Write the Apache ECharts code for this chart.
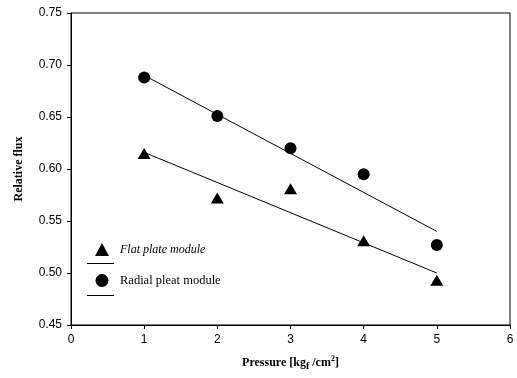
<!DOCTYPE html>
<html>
<head>
<meta charset="utf-8">
<script src="https://cdn.jsdelivr.net/npm/echarts@6/dist/echarts.min.js"></script>
<style>
  html, body { margin: 0; padding: 0; background: #fff; }
  #chart { width: 517px; height: 378px; }
</style>
</head>
<body>
<div id="chart"></div>
<script>
// values
var pressure = [1, 2, 3, 4, 5];
var flatPlate = [0.615, 0.572, 0.581, 0.531, 0.493];
var radialPleat = [0.688, 0.651, 0.620, 0.595, 0.527];

// fitted lines, end points as drawn
var fitX = [1, 5];
var flatFit = [0.616, 0.500];
var radialFit = [0.690, 0.540];

function pairs(xs, ys) {
  return xs.map(function (x, i) { return [x, ys[i]]; });
}

var chart = echarts.init(document.getElementById("chart"));

var serif = "Liberation Serif";
var sans = "Liberation Sans";

var option = {
  animation: false,
  grid: {
    left: 71,
    right: 7,
    top: 13,
    bottom: 53,
    show: true,
    borderColor: "#000",
    borderWidth: 1,
  },
  legend: [
    {
      orient: "vertical",
      left: 90,
      top: 238,
      itemGap: 18,
      itemWidth: 14,
      itemHeight: 13,
      data: ["Flat plate module", "Radial pleat module"],
      textStyle: { fontFamily: serif, fontSize: 12.5, color: "#000", padding: [0, 0, 0, 6] },
      formatter: function (name) {
        return name === "Flat plate module" ? "{i|" + name + "}" : name;
      },
      selectedMode: false,
    },
    {
      orient: "vertical",
      left: 82,
      top: 254,
      itemGap: 27,
      itemWidth: 27,
      itemHeight: 9,
      icon: "path://M0,4.5L27,4.5L27,5.5L0,5.5Z",
      data: ["flat fit", "radial fit"],
      formatter: function () { return ""; },
      selectedMode: false,
    },
  ],
  xAxis: {
    type: "value",
    min: 0,
    max: 6,
    interval: 1,
    name: "Pressure [kg{sub|f} /cm{sup|2}]",
    nameLocation: "middle",
    nameGap: 30,
    nameTextStyle: {
      fontFamily: serif,
      fontWeight: "bold",
      fontSize: 12,
      color: "#000",
      rich: {
        sub: { fontFamily: serif, fontWeight: "bold", fontSize: 10, verticalAlign: "bottom", padding: [6, 0, 0, 0] },
        sup: { fontFamily: serif, fontWeight: "bold", fontSize: 8, verticalAlign: "top", padding: [0, 0, 6, 0] },
      },
    },
    axisLine: { lineStyle: { color: "#000", width: 1 } },
    axisTick: { inside: false, length: 4, lineStyle: { color: "#000" } },
    axisLabel: { fontFamily: sans, fontSize: 12, color: "#000", margin: 9 },
    splitLine: { show: false },
  },
  yAxis: {
    type: "value",
    min: 0.45,
    max: 0.75,
    interval: 0.05,
    name: "Relative flux",
    nameLocation: "middle",
    nameGap: 46,
    nameTextStyle: { fontFamily: serif, fontWeight: "bold", fontSize: 12, color: "#000" },
    axisLine: { show: true, lineStyle: { color: "#000", width: 1 } },
    axisTick: { show: true, inside: false, length: 4, lineStyle: { color: "#000" } },
    axisLabel: {
      fontFamily: sans,
      fontSize: 12,
      color: "#000",
      margin: 9,
      formatter: function (v) { return v.toFixed(2); },
    },
    splitLine: { show: false },
  },
  series: [
    {
      name: "Flat plate module",
      type: "scatter",
      symbol: "triangle",
      symbolSize: [13, 11],
      itemStyle: { color: "#000", opacity: 1 },
      data: pairs(pressure, flatPlate),
    },
    {
      name: "Radial pleat module",
      type: "scatter",
      symbol: "circle",
      symbolSize: 12,
      itemStyle: { color: "#000", opacity: 1 },
      data: pairs(pressure, radialPleat),
    },
    {
      name: "flat fit",
      type: "line",
      showSymbol: false,
      lineStyle: { color: "#000", width: 1 },
      itemStyle: { color: "#000" },
      data: pairs(fitX, flatFit),
    },
    {
      name: "radial fit",
      type: "line",
      showSymbol: false,
      lineStyle: { color: "#000", width: 1 },
      itemStyle: { color: "#000" },
      data: pairs(fitX, radialFit),
    },
  ],
};

// italic style for the first legend label
option.legend[0].textStyle.rich = {
  i: { fontFamily: serif, fontStyle: "italic", fontSize: 12, color: "#000" },
};

chart.setOption(option);
</script>
</body>
</html>
